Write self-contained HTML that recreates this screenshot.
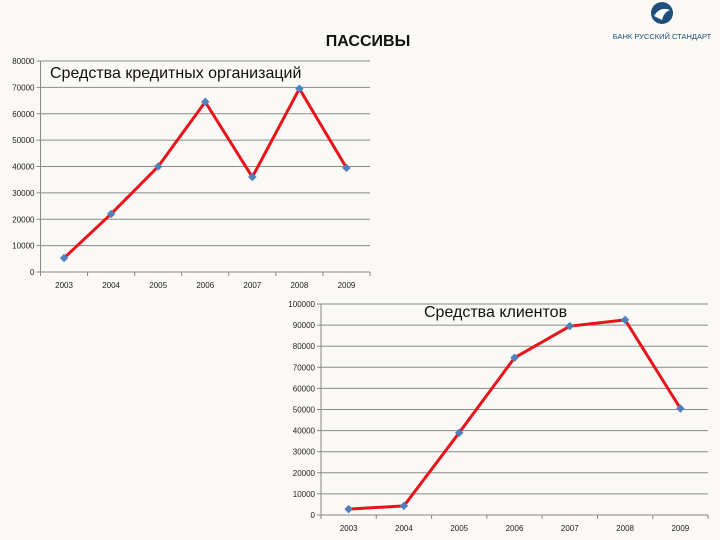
<!DOCTYPE html>
<html><head><meta charset="utf-8"><style>
html,body{margin:0;padding:0;background:#fbf9f5;}
#root{position:relative;width:720px;height:540px;overflow:hidden;background:#fbf9f5;font-family:"Liberation Sans","DejaVu Sans",sans-serif;}
svg{position:absolute;left:0;top:0;}
</style></head><body>
<div id="root">
<svg id="s" width="720" height="540"></svg>
</div>
<script>
const categories = ["2003","2004","2005","2006","2007","2008","2009"];
const interbankValues = [5300, 22000, 40000, 64500, 36000, 69500, 39500];
const clientValues = [2800, 4300, 39000, 74500, 89500, 92500, 50500];
const ticks1 = [0,10000,20000,30000,40000,50000,60000,70000,80000];
const ticks2 = [0,10000,20000,30000,40000,50000,60000,70000,80000,90000,100000];
const NS="http://www.w3.org/2000/svg";
const svg=document.getElementById('s');
function mk(tag,attrs,parent,text){const e=document.createElementNS(NS,tag);for(const k in attrs)e.setAttribute(k,attrs[k]);if(text!==undefined)e.textContent=text;(parent||svg).appendChild(e);return e;}

let t=mk('text',{x:368,y:46,'text-anchor':'middle','font-size':16,'font-weight':'bold',fill:'#111'},svg,'ПАССИВЫ');



// logo
let lg=mk('g',{});


mk('circle',{cx:662,cy:13,r:11,fill:'#1d4f7c'},lg);
mk('path',{d:'M654 16 Q660 6 670 10 Q664 12 662 20 Z',fill:'#fff'},lg);
mk('text',{x:662,y:39,'text-anchor':'middle','font-size':7.5,fill:'#1d4f7c'},lg,'БАНК РУССКИЙ СТАНДАРТ');

function chart(o){
  const g=mk('g',{});
  
  
  const n=o.cats.length, cw=(o.x1-o.x0)/n;
  const X=i=>o.x0+cw*(i+0.5);
  const Y=v=>o.y0-(v/o.max)*(o.y0-o.yTop);
  o.ticks.forEach(v=>{
    const y=Y(v);
    const l=mk('line',{x1:o.x0-4,x2:o.x1,y1:y,y2:y,stroke:v===0?'#888':'#8a8a8a','stroke-width':1},g);
    
    
    const tl=mk('text',{x:o.x0-6,y:y+3,'text-anchor':'end','font-size':8,fill:'#222'},g,String(v));
    
    
  });
  mk('line',{x1:o.x0,x2:o.x0,y1:o.yTop,y2:o.y0,stroke:'#888'},g);
  for(let i=0;i<=n;i++){mk('line',{x1:o.x0+cw*i,x2:o.x0+cw*i,y1:o.y0,y2:o.y0+4,stroke:'#888'},g);}
  o.cats.forEach((c,i)=>{
    const tl=mk('text',{x:X(i),y:o.y0+16,'text-anchor':'middle','font-size':8,fill:'#222'},g,c);
    
    
  });
  const pts=o.vals.map((v,i)=>X(i)+','+Y(v)).join(' ');
  const pl=mk('polyline',{points:pts,fill:'none',stroke:'#e8141c','stroke-width':3,'stroke-linejoin':'miter'},g);
  
  
  o.vals.forEach((v,i)=>{
    const x=X(i),y=Y(v);
    const m=mk('rect',{x:x-3,y:y-3,width:6,height:6,fill:'#4f81bd',transform:`rotate(45 ${x} ${y})`},g);
    
    
  });
  const tt=mk('text',{x:o.tx,y:o.ty,'font-size':16,fill:'#111'},g,o.title);
  
  
}
chart({name:'interbank-chart',cats:categories,vals:interbankValues,ticks:ticks1,max:80000,x0:40.5,x1:370,y0:272,yTop:61,title:'Средства кредитных организаций',tx:50,ty:78});
chart({name:'clients-chart',cats:categories,vals:clientValues,ticks:ticks2,max:100000,x0:321,x1:708,y0:515,yTop:304,title:'Средства клиентов',tx:424,ty:317});
</script>
</body></html>
